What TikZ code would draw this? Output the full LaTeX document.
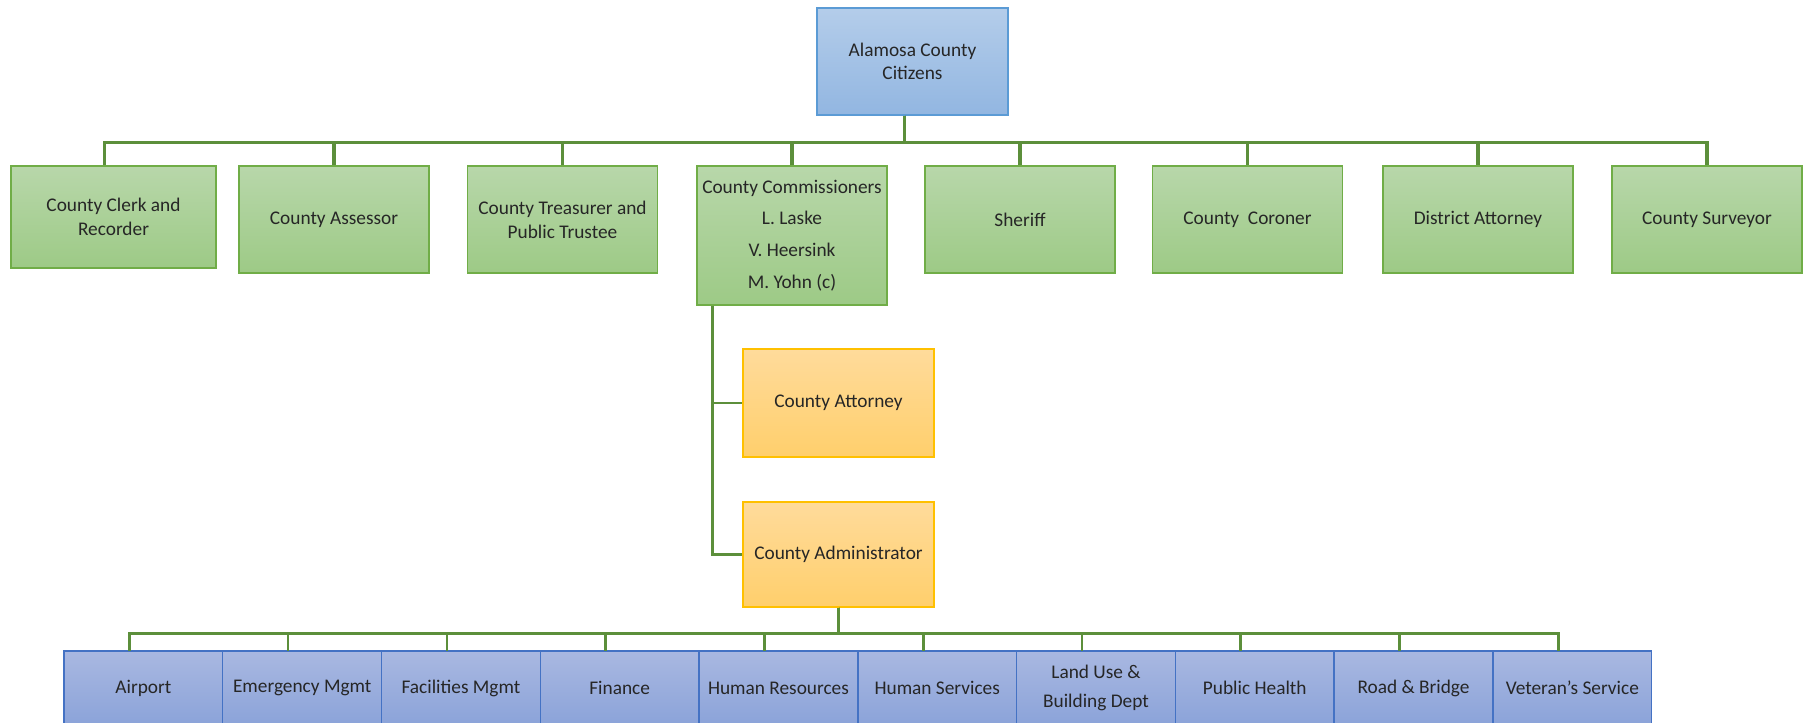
\documentclass[tikz,border=0pt]{standalone}
\usepackage{fontspec}
\setmainfont{Carlito}
\usetikzlibrary{positioning,calc}
\definecolor{textgray}{HTML}{262626}
\definecolor{linkgreen}{HTML}{5C8F3B}
\definecolor{cittop}{HTML}{B4CDEA}
\definecolor{citbot}{HTML}{92B6E1}
\definecolor{citline}{HTML}{5B9BD5}
\definecolor{electop}{HTML}{B8D7AA}
\definecolor{elecbot}{HTML}{9DCA86}
\definecolor{elecline}{HTML}{70AD47}
\definecolor{stafftop}{HTML}{FFDB9B}
\definecolor{staffbot}{HTML}{FFCF6C}
\definecolor{staffline}{HTML}{FFC000}
\definecolor{depttop}{HTML}{A9B8E1}
\definecolor{deptbot}{HTML}{8BA3D9}
\definecolor{deptline}{HTML}{4472C4}

\begin{document}
\begin{tikzpicture}[x=0.02cm, y=-0.02cm]
    \tikzstyle{box}=[rectangle,draw,line width=0.8pt,align=center,inner sep=2pt,text=textgray,font=\fontsize{11}{13.5}\selectfont]
    \tikzstyle{citizen}=[box,draw=citline,top color=cittop,bottom color=citbot,minimum width=3.82cm,minimum height=2.14cm]
    \tikzstyle{elected}=[box,draw=elecline,top color=electop,bottom color=elecbot,minimum width=3.8cm,minimum height=2.14cm]
    \tikzstyle{staff}=[box,draw=staffline,top color=stafftop,bottom color=staffbot,minimum width=3.82cm,minimum height=2.14cm]
    \tikzstyle{dept}=[box,draw=deptline,top color=depttop,bottom color=deptbot,outer sep=0pt,minimum width=3.176cm,minimum height=1.48cm]
    \tikzstyle{bus}=[draw=linkgreen,line width=2pt]
    \tikzstyle{branch}=[draw=linkgreen,line width=1.5pt]
    \clip (0,0) rectangle (1808,723);
    % top of the chart
    \node[citizen] (citizens) at (912.5,61.5) {Alamosa County\\Citizens};
    % elected offices
    \node[elected,minimum width=4.1cm,minimum height=2.04cm] (clerk) at (113.5,217) {County Clerk and\\Recorder};
    \node[elected] (assessor) at (334,219.5) {County Assessor};
    \node[elected] (treasurer) at (562.5,219.5) {County Treasurer and\\Public Trustee};
    \node[elected,minimum height=2.78cm] (commissioners) at (792,235.5) {County Commissioners\\[4.6pt]L. Laske\\[4.6pt]V. Heersink\\[4.6pt]M. Yohn (c)};
    \node[elected] (sheriff) at (1020,219.5) {Sheriff};
    \node[elected] (coroner) at (1247.5,219.5) {County\ \ Coroner};
    \node[elected] (distatty) at (1478,219.5) {District Attorney};
    \node[elected] (surveyor) at (1707,219.5) {County Surveyor};
    % appointed by the board
    \node[staff,minimum height=2.16cm] (cattorney) at (838.5,403) {County Attorney};
    \node[staff,minimum height=2.1cm] (cadmin) at (838.5,554.5) {County Administrator};
    % departments
    \node[dept] (airport) at (143.4,688) {Airport};
    \node[dept,right=0pt of airport] (emergency) {Emergency Mgmt};
    \node[dept,right=0pt of emergency] (facilities) {Facilities Mgmt};
    \node[dept,right=0pt of facilities] (finance) {Finance};
    \node[dept,right=0pt of finance] (hr) {Human Resources};
    \node[dept,right=0pt of hr] (humsvc) {Human Services};
    \node[dept,right=0pt of humsvc] (landuse) {Land Use \&\\[3.5pt]Building Dept};
    \node[dept,right=0pt of landuse] (pubhealth) {Public Health};
    \node[dept,right=0pt of pubhealth] (roadbridge) {Road \& Bridge};
    \node[dept,right=0pt of roadbridge] (veterans) {Veteran's Service};
    % citizens to elected offices
    \draw[bus] ($(citizens.south)+(-8,0)$) -- ++(0,27) -| ($(clerk.north)+(-9,0)$);
    \draw[bus] ($(citizens.south)+(-8,0)$) -- ++(0,27) -| (assessor.north);
    \draw[bus] ($(citizens.south)+(-8,0)$) -- ++(0,27) -| (treasurer.north);
    \draw[bus] ($(citizens.south)+(-8,0)$) -- ++(0,27) -| (commissioners.north);
    \draw[bus] ($(citizens.south)+(-8,0)$) -- ++(0,27) -| (sheriff.north);
    \draw[bus] ($(citizens.south)+(-8,0)$) -- ++(0,27) -| (coroner.north);
    \draw[bus] ($(citizens.south)+(-8,0)$) -- ++(0,27) -| (distatty.north);
    \draw[bus] ($(citizens.south)+(-8,0)$) -- ++(0,27) -| (surveyor.north);
    % board to attorney and administrator
    \draw[branch] ($(commissioners.south west)+(16,0)$) |- (cattorney.west);
    \draw[branch] ($(commissioners.south west)+(16,0)$) |- (cadmin.west);
    % administrator to departments
    \draw[branch] (cadmin.south) -- ++(0,26) -| ($(airport.north)+(-14,0)$);
    \draw[branch] (cadmin.south) -- ++(0,26) -| ($(emergency.north)+(-14,0)$);
    \draw[branch] (cadmin.south) -- ++(0,26) -| ($(facilities.north)+(-14,0)$);
    \draw[branch] (cadmin.south) -- ++(0,26) -| ($(finance.north)+(-14,0)$);
    \draw[branch] (cadmin.south) -- ++(0,26) -| ($(hr.north)+(-14,0)$);
    \draw[branch] (cadmin.south) -- ++(0,26) -| ($(humsvc.north)+(-14,0)$);
    \draw[branch] (cadmin.south) -- ++(0,26) -| ($(landuse.north)+(-14,0)$);
    \draw[branch] (cadmin.south) -- ++(0,26) -| ($(pubhealth.north)+(-14,0)$);
    \draw[branch] (cadmin.south) -- ++(0,26) -| ($(roadbridge.north)+(-14,0)$);
    \draw[branch] (cadmin.south) -- ++(0,26) -| ($(veterans.north)+(-14,0)$);
  \end{tikzpicture}
\end{document}
